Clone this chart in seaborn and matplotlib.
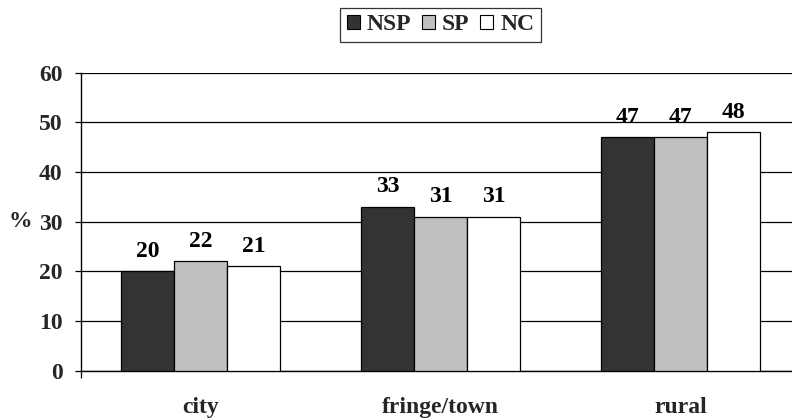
import matplotlib
matplotlib.use("Agg")
import matplotlib.pyplot as plt
import seaborn as sns
import pandas as pd
from matplotlib.patches import Patch

# Share of respondents (%) by area type and group
areas = ["city", "fringe/town", "rural"]
groups = ["NSP", "SP", "NC"]
nsp = [20, 33, 47]
sp = [22, 31, 47]
nc = [21, 31, 48]
colors = {"NSP": "#333333", "SP": "#c0c0c0", "NC": "#ffffff"}

rows = []
for g, vals in zip(groups, [nsp, sp, nc]):
    for a, v in zip(areas, vals):
        rows.append({"area": a, "group": g, "pct": v})
df = pd.DataFrame(rows)

sns.set_theme(style="white")
plt.rcParams["font.family"] = ["Liberation Serif", "DejaVu Serif"]
plt.rcParams["font.weight"] = "bold"

FS = 17

fig = plt.figure(figsize=(7.92, 4.19), dpi=100)
W, H = 792, 419
ax = fig.add_axes([80.7 / W, (H - 370.7) / H, 720 / W, 298 / H])

sns.barplot(data=df, x="area", y="pct", hue="group", order=areas,
            hue_order=groups, palette=colors, width=0.663,
            edgecolor="black", linewidth=0.9, ax=ax, legend=False,
            zorder=3)

# value labels above each bar
for cont in ax.containers:
    ax.bar_label(cont, fmt="%d", padding=7, fontsize=FS,
                 fontweight="bold", color="black")

ax.set_ylim(0, 60)
ax.set_yticks(range(0, 61, 10))
ax.set_xlim(-0.5, 2.5)
ax.yaxis.grid(True, color="black", linewidth=0.9, zorder=0)
ax.set_axisbelow(True)

for side in ["top", "right"]:
    ax.spines[side].set_visible(False)
for side in ["left", "bottom"]:
    ax.spines[side].set_color("black")
    ax.spines[side].set_linewidth(1.0)

ax.tick_params(axis="y", which="major", direction="out", length=4.5,
               width=0.9, color="black", left=True, pad=8.5,
               labelsize=FS)
ax.tick_params(axis="x", which="major", length=0, pad=19,
               labelsize=FS)
ax.set_xticks([-0.5], minor=True)
ax.tick_params(axis="x", which="minor", direction="out", length=5,
               width=0.9, color="black", bottom=True)
for lbl in ax.get_xticklabels() + ax.get_yticklabels():
    lbl.set_fontweight("bold")

ax.set_xlabel("")
ax.set_ylabel("%", rotation=0, fontsize=FS, fontweight="bold",
              va="center", ha="center")
ax.yaxis.set_label_coords(-0.084, 0.5)

handles = [Patch(facecolor=colors[g], edgecolor="black", linewidth=0.8,
                 label=g) for g in groups]
leg = fig.legend(handles=handles, loc="center", ncol=3,
                 bbox_to_anchor=(440.5 / W, 1 - 25 / H),
                 frameon=True, fancybox=False, handlelength=0.55,
                 handleheight=0.55, handletextpad=0.3, columnspacing=0.45,
                 borderpad=0.28, borderaxespad=0,
                 prop={"family": "Liberation Serif", "weight": "bold",
                       "size": FS})
leg.get_frame().set_edgecolor("black")
leg.get_frame().set_linewidth(0.9)

fig.savefig("out.png", dpi=100)
